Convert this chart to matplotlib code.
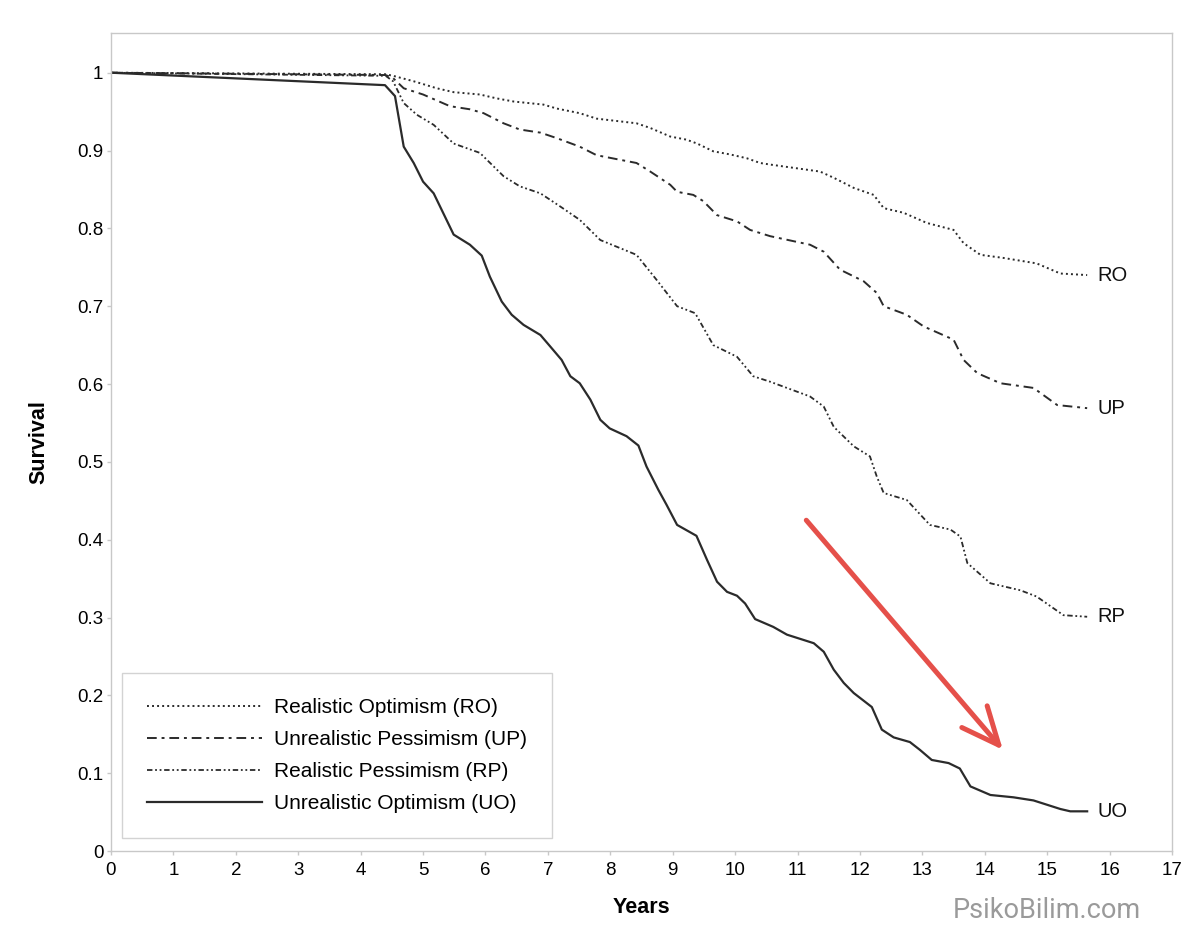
import numpy as np
import matplotlib
matplotlib.use("Agg")
import matplotlib.pyplot as plt

plt.rcParams['font.family'] = ['Liberation Sans', 'DejaVu Sans']

# survival curves (years, survival)
ro_years = [0, 4.4, 4.52, 4.85, 5.22, 5.49, 5.91, 6.18, 6.45, 6.93, 7.14, 7.51, 7.78, 8.42, 8.64, 8.96, 9.22, 9.39, 9.65, 9.92,
            10.19, 10.4, 10.56, 11.36, 11.58, 11.9, 12.22, 12.38, 12.7, 13.07, 13.5, 13.66, 13.93, 14.3, 14.83, 15.21, 15.64]
ro_surv = [1.0, 0.998, 0.996, 0.989, 0.980, 0.975, 0.972, 0.967, 0.963, 0.959, 0.954, 0.948, 0.941, 0.935, 0.929, 0.918, 0.914, 0.909, 0.899, 0.895,
           0.890, 0.884, 0.882, 0.873, 0.865, 0.852, 0.843, 0.826, 0.820, 0.807, 0.798, 0.781, 0.766, 0.762, 0.755, 0.742, 0.740]

up_years = [0, 4.4, 4.52, 4.69, 5.0, 5.43, 5.75, 5.97, 6.29, 6.55, 6.88, 7.14, 7.51, 7.78, 8.1, 8.42, 8.64, 8.96, 9.07, 9.33,
            9.49, 9.71, 10.03, 10.24, 10.56, 11.2, 11.42, 11.68, 12.06, 12.27, 12.38, 12.75, 13.02, 13.5, 13.66, 13.88, 14.25, 14.78, 15.16, 15.64]
up_surv = [1.0, 0.997, 0.993, 0.980, 0.972, 0.957, 0.953, 0.948, 0.935, 0.927, 0.923, 0.916, 0.905, 0.894, 0.889, 0.884, 0.873, 0.856, 0.847, 0.843,
           0.835, 0.817, 0.809, 0.798, 0.790, 0.779, 0.770, 0.747, 0.732, 0.717, 0.700, 0.689, 0.674, 0.657, 0.631, 0.614, 0.601, 0.595, 0.573, 0.569]

rp_years = [0, 4.4, 4.52, 4.69, 4.9, 5.17, 5.49, 5.91, 6.29, 6.55, 6.88, 7.2, 7.51, 7.84, 8.42, 8.74, 9.07, 9.36, 9.65, 10.03,
            10.29, 10.56, 11.2, 11.42, 11.58, 11.9, 12.16, 12.27, 12.38, 12.75, 13.12, 13.45, 13.61, 13.72, 14.09, 14.57, 14.83, 15.26, 15.64]
rp_surv = [1.0, 0.996, 0.989, 0.961, 0.946, 0.933, 0.909, 0.897, 0.867, 0.854, 0.845, 0.828, 0.811, 0.785, 0.766, 0.734, 0.700, 0.691, 0.650, 0.635,
           0.610, 0.603, 0.584, 0.571, 0.545, 0.520, 0.507, 0.481, 0.460, 0.451, 0.419, 0.413, 0.404, 0.370, 0.344, 0.335, 0.327, 0.303, 0.301]

uo_years = [0, 4.39, 4.55, 4.69, 4.85, 5.0, 5.17, 5.49, 5.75, 5.94, 6.07, 6.26, 6.42, 6.61, 6.88, 7.04, 7.22, 7.36, 7.51, 7.68,
            7.84, 7.99, 8.26, 8.45, 8.58, 8.77, 8.9, 9.07, 9.38, 9.55, 9.71, 9.87, 10.03, 10.16, 10.32, 10.61, 10.83, 11.26, 11.42, 11.58,
            11.74, 11.9, 12.19, 12.35, 12.54, 12.8, 12.96, 13.15, 13.42, 13.6, 13.77, 14.09, 14.46, 14.78, 15.21, 15.37, 15.64]
uo_surv = [1.0, 0.984, 0.970, 0.905, 0.884, 0.860, 0.845, 0.792, 0.779, 0.765, 0.738, 0.706, 0.689, 0.676, 0.663, 0.648, 0.631, 0.610, 0.601, 0.580,
           0.554, 0.543, 0.533, 0.521, 0.494, 0.464, 0.445, 0.419, 0.405, 0.374, 0.346, 0.333, 0.328, 0.318, 0.298, 0.288, 0.278, 0.267, 0.256, 0.233,
           0.216, 0.203, 0.185, 0.156, 0.146, 0.140, 0.130, 0.117, 0.113, 0.106, 0.083, 0.072, 0.069, 0.065, 0.054, 0.051, 0.051]

names = ["Realistic Optimism (RO)", "Unrealistic Pessimism (UP)", "Realistic Pessimism (RP)", "Unrealistic Optimism (UO)"]
short = ["RO", "UP", "RP", "UO"]

x_ticks = list(range(0, 18))
y_ticks = [0, 0.1, 0.2, 0.3, 0.4, 0.5, 0.6, 0.7, 0.8, 0.9, 1]
y_tick_labels = ["0", "0.1", "0.2", "0.3", "0.4", "0.5", "0.6", "0.7", "0.8", "0.9", "1"]

# red arrow (tail -> tip) in data units
arrow_tail = (11.14, 0.425)
arrow_tip = (14.29, 0.130)

line_col = '#2b2b2b'
styles = [
    dict(ls=(0, (1, 1.6)), lw=1.4),
    dict(ls=(0, (5, 2.5, 1.5, 2.5)), lw=1.4),
    dict(ls=(0, (3, 1.5, 1, 1.5, 1, 1.5)), lw=1.3),
    dict(ls='-', lw=1.6),
]

fig = plt.figure(figsize=(12, 9.46), dpi=100)
ax = fig.add_axes([0.0925, 0.1004, 0.8842, 0.8647])

series = [(ro_years, ro_surv), (up_years, up_surv), (rp_years, rp_surv), (uo_years, uo_surv)]
for (xs, ys), nm, st in zip(series, names, styles):
    ax.plot(xs, ys, color=line_col, label=nm, **st)

# labels at the end of each curve
for (xs, ys), s in zip(series, short):
    ax.text(xs[-1] + 0.16, ys[-1], s, fontsize=14.5, va='center', ha='left', color='#111111')

ax.annotate("", xy=arrow_tip, xytext=arrow_tail,
            arrowprops=dict(arrowstyle='->,head_length=1.35,head_width=0.6', color='#e5504a',
                            lw=3.6, mutation_scale=20, shrinkA=0, shrinkB=0))

ax.set_xlim(0, 17)
ax.set_ylim(0, 1.051)
ax.set_xticks(x_ticks)
ax.set_yticks(y_ticks)
ax.set_yticklabels(y_tick_labels)
ax.tick_params(axis='both', labelsize=13.5, color='#c8c8c8', length=3, width=1, direction='out')
ax.tick_params(axis='x', pad=5)
ax.tick_params(axis='y', pad=2.5)
for sp in ax.spines.values():
    sp.set_color('#c8c8c8')
    sp.set_linewidth(1)

ax.set_xlabel("Years", fontsize=15.5, fontweight='bold')
ax.set_ylabel("Survival", fontsize=15.5, fontweight='bold')
ax.xaxis.set_label_coords(0.5, -0.056)
ax.yaxis.set_label_coords(-0.058, 0.5)

leg = ax.legend(loc='lower left', bbox_to_anchor=(0.0104, 0.016), borderaxespad=0, fontsize=15,
                frameon=True, fancybox=False, edgecolor='#c8c8c8', handlelength=5.5, handletextpad=0.6,
                labelspacing=0.62, borderpad=1.2)
leg.get_frame().set_linewidth(1)

fig.text(0.8725, 0.038, "PsikoBilim.com", fontsize=19.5, color='#9a9a9a', ha='center', va='center',
         family=['Roboto', 'DejaVu Sans'])

fig.savefig("out.png", dpi=100)
